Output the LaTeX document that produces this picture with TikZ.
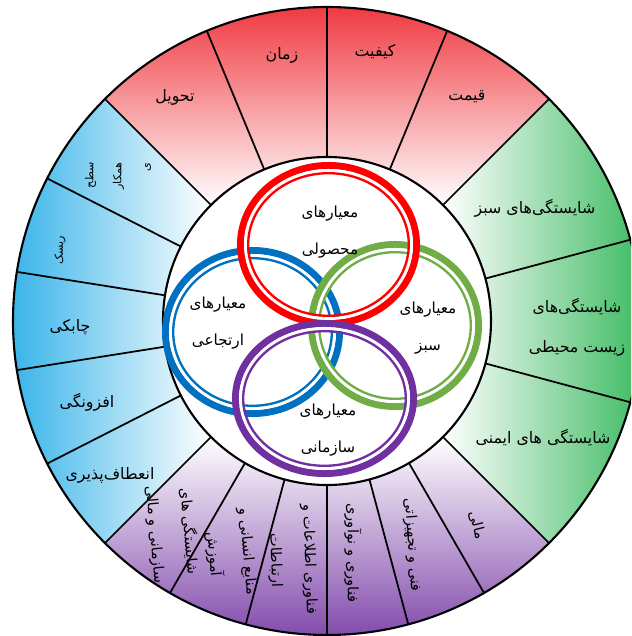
\documentclass[tikz,border=0pt]{standalone}
\usepackage{fontspec}
\newfontfamily\farsifont[Script=Arabic]{DejaVu Sans}
\TeXXeTstate=1
\definecolor{wheelred}{RGB}{237, 28, 36}
\definecolor{wheelgreen}{RGB}{34, 177, 76}
\definecolor{wheelblue}{RGB}{27, 169, 230}
\definecolor{wheelpurple}{RGB}{112, 48, 160}
\definecolor{ringred}{RGB}{255, 0, 0}
\definecolor{ringblue}{RGB}{0, 112, 192}
\definecolor{ringgreen}{RGB}{112, 173, 71}
\definecolor{ringpurple}{RGB}{112, 48, 160}
\newcommand{\fa}[1]{\beginR#1\endR}

\begin{document}
\begin{tikzpicture}[
      x=0.03cm, y=0.03cm,
      seglabel/.style={font=\farsifont\fontsize{13.5}{34}\selectfont, align=center, inner sep=0pt},
      smalllabel/.style={font=\farsifont\fontsize{9.5}{24}\selectfont, align=right, inner sep=0pt},
      purplelabel/.style={font=\farsifont\fontsize{12.5}{29}\selectfont, align=center, inner sep=0pt},
      corelabel/.style={font=\farsifont\fontsize{13}{32}\selectfont, align=center, inner sep=0pt},
      spoke/.style={draw=black, line width=1.5pt},
      rim/.style={draw=black, line width=1.8pt},
      ringthick/.style={line width=6pt},
      ringgap/.style={draw=white, line width=2.6pt},
      ringthin/.style={line width=2pt}
    ]
      \useasboundingbox (-327,-315) rectangle (304,321);
      \clip (-327,-315) rectangle (304,321);
      \coordinate (hub) at (0,0);

      \shade[top color=wheelred, middle color=wheelred!45, bottom color=white] (45:164) -- (45:314) arc[start angle=45, end angle=135, radius=314] -- (135:164) arc[start angle=135, end angle=45, radius=164] -- cycle;
      \shade[left color=white, right color=wheelgreen] (-45:164) -- (-45:314) arc[start angle=-45, end angle=45, radius=314] -- (45:164) arc[start angle=45, end angle=-45, radius=164] -- cycle;
      \shade[left color=wheelblue, right color=white] (135:164) -- (135:314) arc[start angle=135, end angle=225, radius=314] -- (225:164) arc[start angle=225, end angle=135, radius=164] -- cycle;
      \shade[top color=white, bottom color=wheelpurple] (225:164) -- (225:314) arc[start angle=225, end angle=315, radius=314] -- (315:164) arc[start angle=315, end angle=225, radius=164] -- cycle;

      \draw[spoke] (45:164) -- (45:314) (67.5:164) -- (67.5:314) (90:164) -- (90:314) (112.5:164) -- (112.5:314) (135:164) -- (135:314);
      \draw[spoke] (15:164) -- (15:314) (-15:164) -- (-15:314);
      \draw[spoke] (-45:164) -- (-45:314) (-60:164) -- (-60:314) (-75:164) -- (-75:314) (-90:164) -- (-90:314) (-105:164) -- (-105:314) (-120:164) -- (-120:314) (-135:164) -- (-135:314);
      \draw[spoke] (153:164) -- (153:314) (171:164) -- (171:314) (189:164) -- (189:314) (207:164) -- (207:314);
      \draw[rim] (hub) circle [radius=314];
      \draw[rim, fill=white] (hub) circle [radius=164];

      \coordinate (bluec) at (-74.5,-11);
      \coordinate (greenc) at (68,-4.5);
      \coordinate (redc) at (1.5,76.5);
      \coordinate (purplec) at (-2.5,-77.5);
      \draw[ringthick, draw=ringblue] (bluec) ellipse [x radius=87, y radius=81.5];
      \draw[ringgap] (bluec) ellipse [x radius=82, y radius=76.5];
      \draw[ringthin, draw=ringblue] (bluec) ellipse [x radius=79.3, y radius=73.8];
      \draw[ringthick, draw=ringgreen] (greenc) ellipse [x radius=83.5, y radius=81];
      \draw[ringgap] (greenc) ellipse [x radius=78.5, y radius=76];
      \draw[ringthin, draw=ringgreen] (greenc) ellipse [x radius=75.8, y radius=73.3];
      \draw[ringthick, draw=ringred] (redc) ellipse [x radius=88, y radius=79];
      \draw[ringgap] (redc) ellipse [x radius=83, y radius=74];
      \draw[ringthin, draw=ringred] (redc) ellipse [x radius=80.3, y radius=71.3];
      \draw[ringthick, draw=ringpurple] (purplec) ellipse [x radius=89, y radius=75];
      \draw[ringgap] (purplec) ellipse [x radius=84, y radius=70];
      \draw[ringthin, draw=ringpurple] (purplec) ellipse [x radius=81.3, y radius=67.3];

      \node[corelabel] (mahsooli) at (3,89) {\fa{معیارهای}\\\fa{محصولی}};
      \node[corelabel] (ertejaee) at (-109,-2) {\fa{معیارهای}\\\fa{ارتجاعی}};
      \node[corelabel] (sabzcore) at (101,-7) {\fa{معیارهای}\\\fa{سبز}};
      \node[corelabel] (sazmanicore) at (1,-109) {\fa{معیارهای}\\\fa{سازمانی}};

      \node[seglabel] (tahvil) at (-152,224) {\fa{تحویل}};
      \node[seglabel] (zaman) at (-45,266) {\fa{زمان}};
      \node[seglabel] (keyfiat) at (48,269) {\fa{کیفیت}};
      \node[seglabel] (gheymat) at (140,224) {\fa{قیمت}};

      \node[seglabel] (sabz) at (208,113) {\fa{شایستگی^^^^200cهای سبز}};
      \node[seglabel] (zist) at (250,-6) {\fa{شایستگی^^^^200cهای}\\\fa{زیست محیطی}};
      \node[seglabel] (imeni) at (216,-117) {\fa{شایستگی های ایمنی}};

      \node[smalllabel, rotate=90] (hamkari) at (-209,145) {\fa{سطح}\\\fa{همکار}\\\fa{ی}};
      \node[smalllabel, rotate=90] (risk) at (-267,71) {\fa{ریسک}};
      \node[seglabel] (chaboki) at (-257,-6) {\fa{چابکی}};
      \node[seglabel] (afzoongi) at (-240,-81) {\fa{افزونگی}};
      \node[seglabel] (enetaf) at (-217,-154) {\fa{انعطاف^^^^200cپذیری}};

      \node[purplelabel, rotate=-76] (mali) at (150,-204) {\fa{مالی}};
      \node[purplelabel, rotate=-86] (fanni) at (85,-224) {\fa{فنی و تجهیزاتی}};
      \node[purplelabel, rotate=-90] (noavari) at (26,-232) {\fa{فناوری و نوآوری}};
      \node[purplelabel, rotate=-88] (fanavari) at (-35,-239) {\fa{فناوری اطلاعات و}\\\fa{ارتباطات}};
      \node[purplelabel, rotate=-85] (manabe) at (-97,-232) {\fa{منابع انسانی و}\\\fa{آموزش}};
      \node[purplelabel, rotate=-85] (sazmani) at (-155,-212) {\fa{شایستگی های}\\\fa{سازمانی و مالی}};
    \end{tikzpicture}
\end{document}
